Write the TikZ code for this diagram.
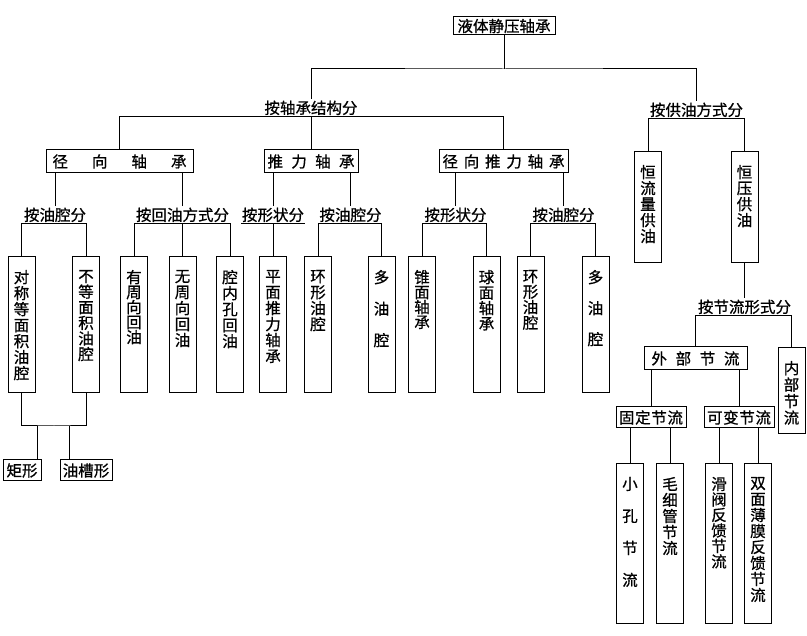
\documentclass[tikz,border=0pt]{standalone}
\usepackage{fontspec}
\usepackage{tikz}
\newfontfamily\cjk[FakeBold=0.8]{Noto Sans CJK SC}
\newcommand{\vt}[3][16pt]{\parbox[c][\dimexpr#2-26pt\relax][t]{15.5pt}{\centering\baselineskip=#1\relax #3\par}}
\tikzset{hbox/.style={draw,font=\cjk\fontsize{15.5}{18}\selectfont,inner sep=0pt,minimum height=21pt},
vbox/.style={draw,font=\cjk\fontsize{15.5}{18}\selectfont,inner xsep=5.75pt,inner ysep=13pt},
lbl/.style={font=\cjk\fontsize{15.5}{18}\selectfont,inner sep=0.5pt,text height=13.5pt,text depth=2pt}}

\begin{document}
\begin{tikzpicture}[x=1pt,y=-1pt,line width=1pt]
\useasboundingbox (0,0) rectangle (807,636);
\node[hbox,minimum width=102pt,minimum height=18pt] (top) at (504,26) {液体静压轴承};
\coordinate (b0) at (504,69);
\node[lbl] (s0) at (311,108) {按轴承结构分};
\node[lbl] (s5) at (696.5,110) {按供油方式分};
\node[hbox,minimum width=147pt,minimum height=23pt] (j1) at (119.5,161.5) {\makebox[134pt]{径\hfill 向\hfill 轴\hfill 承}};
\node[hbox,minimum width=94pt,minimum height=23pt] (j2) at (311,161.5) {\makebox[87pt]{推\hfill 力\hfill 轴\hfill 承}};
\node[hbox,minimum width=129pt,minimum height=23pt] (j3) at (503.5,161.5) {\makebox[122pt]{径\hfill 向\hfill 推\hfill 力\hfill 轴\hfill 承}};
\node[lbl] (l1) at (55,215) {按油腔分};
\node[lbl] (l2) at (182.5,215) {按回油方式分};
\node[lbl] (l3) at (273,215) {按形状分};
\node[lbl] (l4) at (350.5,215) {按油腔分};
\node[lbl] (l5) at (455.5,215) {按形状分};
\node[lbl] (l6) at (563.5,215) {按油腔分};
\node[vbox] (v1) at (21.5,325) {\vt{136pt}{对\\称\\等\\面\\积\\油\\腔}};
\node[vbox] (v2) at (86,325) {\vt[15.6pt]{136pt}{不\\等\\面\\积\\油\\腔}};
\node[vbox] (v3) at (134,325) {\vt[15pt]{136pt}{有\\周\\向\\回\\油}};
\node[vbox] (v4) at (182.5,325) {\vt{136pt}{无\\周\\向\\回\\油}};
\node[vbox] (v5) at (230,325) {\vt{136pt}{腔\\内\\孔\\回\\油}};
\node[vbox] (v6) at (273,325) {\vt{136pt}{平\\面\\推\\力\\轴\\承}};
\node[vbox] (v7) at (318,325) {\vt{136pt}{环\\形\\油\\腔}};
\node[vbox] (v8) at (381.5,325) {\vt[31.5pt]{136pt}{多\\油\\腔}};
\node[vbox] (v9) at (422,325) {\vt[15pt]{136pt}{锥\\面\\轴\\承}};
\node[vbox] (v10) at (486.5,325) {\vt[15.5pt]{136pt}{球\\面\\轴\\承}};
\node[vbox] (v11) at (530.5,325) {\vt[15.5pt]{136pt}{环\\形\\油\\腔}};
\node[vbox] (v12) at (595.5,325) {\vt[31pt]{136pt}{多\\油\\腔}};
\coordinate (b1) at (54,426);
\coordinate (b2) at (37,426);
\coordinate (b3) at (69,426);
\node[hbox,minimum width=38pt] (g1) at (22,470.5) {矩形};
\node[hbox,minimum width=52pt] (g2) at (86,470.5) {油槽形};
\node[vbox] (r1) at (648,207.5) {\vt{111pt}{恒\\流\\量\\供\\油}};
\node[vbox] (r2) at (744.5,207.5) {\vt{111pt}{恒\\压\\供\\油}};
\node[lbl] (s6) at (744.5,307) {按节流形式分};
\node[hbox,minimum width=103pt,minimum height=23pt] (e1) at (695.5,358.5) {\makebox[88pt]{外\hfill 部\hfill 节\hfill 流}};
\node[vbox] (r3) at (791.5,391) {\vt[16.5pt]{86pt}{内\\部\\节\\流}};
\node[hbox,minimum width=70pt] (f1) at (651,417.5) {\makebox[64pt]{固\hfill 定\hfill 节\hfill 流}};
\node[hbox,minimum width=70pt] (f2) at (739,417.5) {\makebox[64pt]{可\hfill 变\hfill 节\hfill 流}};
\node[vbox] (r4) at (630,543.5) {\vt[32pt]{159pt}{小\\孔\\节\\流}};
\node[vbox] (r5) at (670,543.5) {\vt{159pt}{毛\\细\\管\\节\\流}};
\node[vbox] (r6) at (719,543.5) {\vt[15.5pt]{159pt}{滑\\阀\\反\\馈\\节\\流}};
\node[vbox] (r7) at (758,543.5) {\vt{159pt}{双\\面\\薄\\膜\\反\\馈\\节\\流}};
\draw (top) -- (b0);
\draw (s0) |- (b0) -| (s5);
\draw (j1) |- (s0.south) -| (j3);
\draw (s0) -- (j2);
\draw (l1) -- (l1 |- j1.south);
\draw (l2) -- (l2 |- j1.south);
\draw (l3) -- (l3 |- j2.south);
\draw (l4) -- (l4 |- j2.south);
\draw (l5) -- (l5 |- j3.south);
\draw (l6) -- (l6 |- j3.south);
\draw (v1) |- (l1.south) -| (v2);
\draw (v3) |- (l2.south) -| (v5);
\draw (l2) -- (v4);
\draw (l3.south west) -- (l3.south east);
\draw (l3) -- (v6);
\draw (v7) |- (l4.south) -| (v8);
\draw (v9) |- (l5.south) -| (v10);
\draw (v11) |- (l6.south) -| (v12);
\draw (v1) |- (b1) -| (v2);
\draw (b2) -- (b2 |- g1.north);
\draw (b3) -- (b3 |- g2.north);
\draw (r1) |- (s5.south) -| (r2);
\draw (r2) -- (s6);
\draw (e1) |- (s6.south) -| (r3);
\draw (f1) -- (f1 |- e1.south);
\draw (f2) -- (f2 |- e1.south);
\draw (r4) -- (r4 |- f1.south);
\draw (r5) -- (r5 |- f1.south);
\draw (r6) -- (r6 |- f2.south);
\draw (r7) -- (r7 |- f2.south);
\end{tikzpicture}
\end{document}
